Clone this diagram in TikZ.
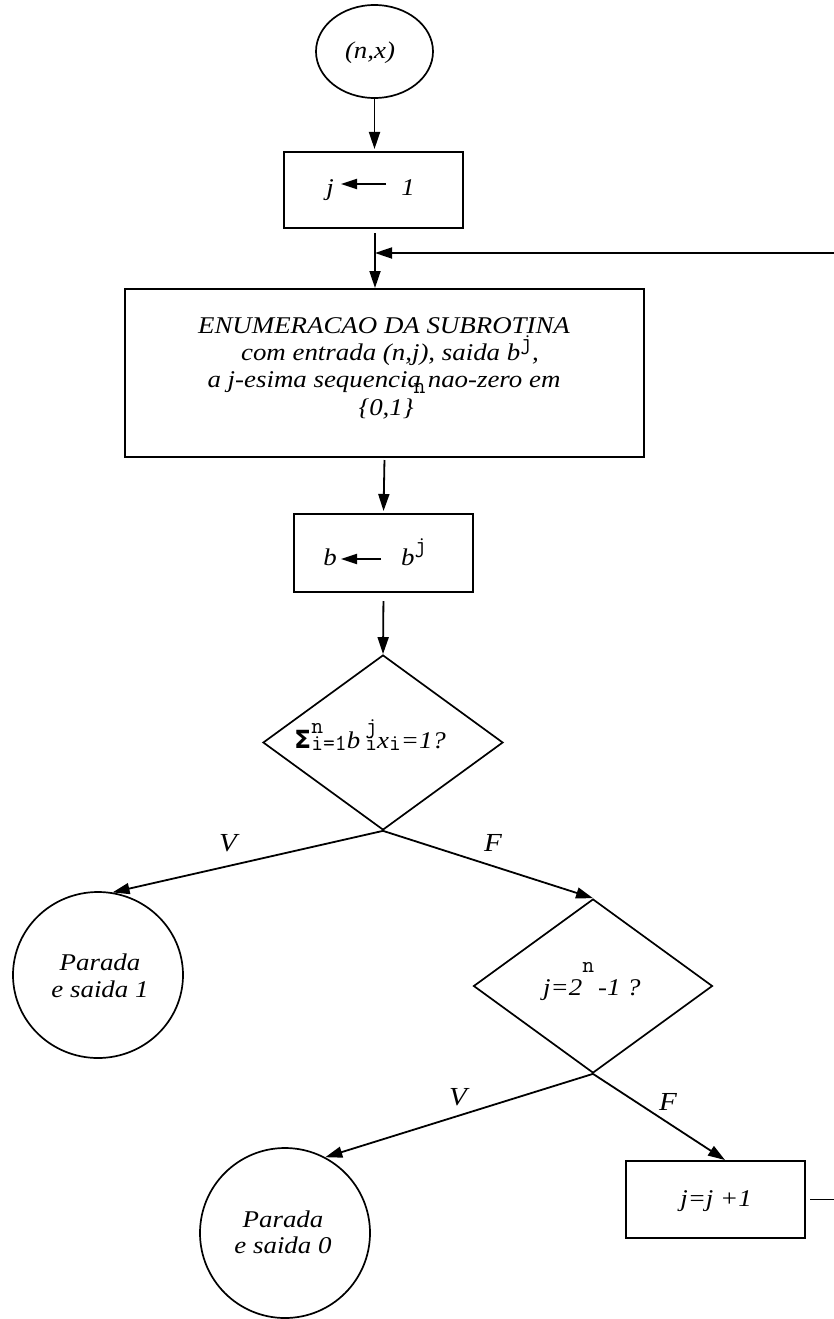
\documentclass[tikz,border=0pt]{standalone}
\usepackage{fontspec}
\setmainfont{Liberation Serif}[FakeStretch=1.12]
\newfontfamily\sigmafont{DejaVu Sans}
\usetikzlibrary{shapes.geometric,arrows.meta}

\tikzset{
  flow/.style={line width=1.8pt},
  arr/.style={flow,-{Triangle[length=17pt,width=11pt]}},
  smallarr/.style={flow,-{Triangle[length=16pt,width=10pt]}},
  procbox/.style={draw,line width=2pt,rectangle,inner sep=0pt},
  decision/.style={draw,line width=1.7pt,diamond,inner sep=0pt},
  terminal/.style={draw,line width=1.7pt,ellipse,inner sep=0pt},
  txt/.style={font=\fontsize{24}{27}\selectfont\itshape,inner sep=0pt,anchor=base},
  lab/.style={font=\fontsize{26}{30}\selectfont\itshape,inner sep=0pt},
}
% typewriter indices and exponents
\newcommand\sps[1]{{\ttfamily\upshape\fontsize{23}{23}\selectfont #1}}

\begin{document}
\begin{tikzpicture}[x=1pt,y=-1pt]
\useasboundingbox (0,0) rectangle (833,1319);

% ---- shapes ----
\node[terminal,minimum width=117pt,minimum height=93pt] (start) at (374.5,51.5) {};
\node[procbox,minimum width=179pt,minimum height=76pt] (j1) at (373.5,190) {};
\node[procbox,minimum width=519pt,minimum height=168pt] (enum) at (384.5,373) {};
\node[procbox,minimum width=179pt,minimum height=78pt] (bb) at (383.5,553) {};
\node[decision,aspect=1.37,minimum width=240pt,minimum height=175pt] (d1) at (383,742.5) {};
\node[terminal,minimum width=170pt,minimum height=166pt] (p1) at (98,975) {};
\node[decision,aspect=1.37,minimum width=239pt,minimum height=174pt] (d2) at (593,986) {};
\node[terminal,minimum width=170pt,minimum height=170pt] (p0) at (285,1233) {};
\node[procbox,minimum width=179pt,minimum height=77pt] (jj) at (715.5,1199.5) {};

% ---- texts ----
\node[txt] (tstart) at (370,59) {(n,x)};

\node[txt] (j1l) at (330,195) {j};
\node[txt] (j1r) at (408,195) {1};
\draw[smallarr] (386,184) coordinate (j1a) -- (341,184) coordinate (j1b);

\node[txt] (e1) at (384,333) {ENUMERACAO DA SUBROTINA};
\node[txt] (e2) at (390,360) {com entrada (n,j), saida b\raisebox{11pt}{\sps{j}},};
\node[txt] (e3) at (384,387) {a j-esima sequencia nao-zero em};
\node[txt] (e4) at (392,415) {\{0,1\}\raisebox{22pt}{\sps{n}}};

\node[txt] (bl) at (330,565) {b};
\node[txt,anchor=base west] (br) at (401,565) {b\raisebox{13pt}{\sps{j}}};
\draw[smallarr] (381,559) coordinate (ba) -- (341,559) coordinate (bbh);

\node[txt,anchor=base west] (d1t) at (294,748)
  {{\sigmafont\upshape\bfseries\fontsize{25}{25}\selectfont Σ}\rlap{\raisebox{15pt}{\sps{n}}}\raisebox{-2pt}{\sps{i=1}}b\hspace{5pt}\rlap{\raisebox{15pt}{\sps{j}}}\raisebox{-2pt}{\sps{i}}x\raisebox{-2pt}{\sps{i}}=1?};

\node[txt,anchor=base west] (d2t) at (543,995) {j=2\raisebox{23pt}{\sps{n}}\,-1 ?};

\node[txt] (p1a) at (100,970) {Parada};
\node[txt] (p1b) at (100,997) {e saida 1};
\node[txt] (p0a) at (283,1227) {Parada};
\node[txt] (p0b) at (283,1253) {e saida 0};
\node[txt] (jjt) at (716,1206) {j=j +1};

\node[lab] (v1) at (228,843) {V};
\node[lab] (f1) at (493,843) {F};
\node[lab] (v2) at (458,1097) {V};
\node[lab] (f2) at (668,1102) {F};

% ---- connectors ----
\draw[arr,shorten >=2pt] (start.south) -- (start.south |- j1.north);
\coordinate (m1) at (375,233);
\coordinate (loopin) at (375,253);
\draw[flow] (m1) -- (loopin);
\draw[arr] (loopin) -- (m1 |- enum.north);
\draw[arr,shorten <=2pt,shorten >=2pt] (enum.south) -- (bb.north);
\draw[arr,shorten <=8pt] (bb.south) -- (d1.north);
\draw[arr] (d1.south) -- (p1.80);
\draw[arr] (d1.south) -- (d2.north);
\draw[arr] (d2.south) -- (p0.62);
\draw[arr] (d2.south) -- ([xshift=9.5pt]jj.north);
% return path to the loop entry
\draw[arr] ([xshift=4pt]jj.east) -- (850,1199.5) |- (loopin);

\end{tikzpicture}
\end{document}
